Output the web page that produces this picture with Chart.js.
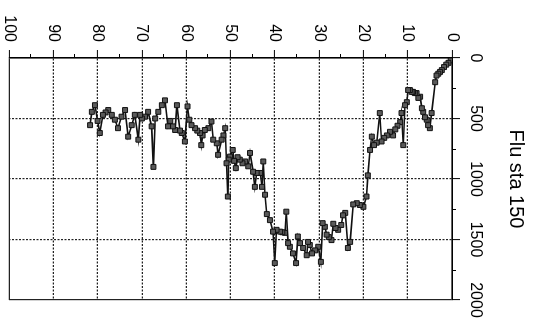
<!DOCTYPE html>
<html>
<head>
<meta charset="utf-8">
<script src="https://cdn.jsdelivr.net/npm/chart.js@4.4.1/dist/chart.umd.min.js"></script>
<style>
    html, body { margin: 0; padding: 0; overflow: hidden; background: #fff; width: 535px; height: 330px; }
    /* the scanned figure is turned a quarter turn clockwise */
    #wrap { position: absolute; left: 0; top: 0; width: 330px; height: 535px;
            transform-origin: 0 0; transform: translate(535px, 0) rotate(90deg); }
</style>
</head>
<body>
<div id="wrap"><canvas id="profileChart" width="330" height="535"></canvas></div>
<script>
// depth (m) and fluorescence readings, station 150
var depth = [0.3, 0.8, 1.3, 1.8, 2.3, 2.7, 3.1, 3.5, 3.8, 4.6,
    5.0, 5.4, 5.7, 6.1, 6.5, 6.8, 7.2, 7.6, 8.0, 8.4,
    8.8, 9.1, 9.5, 9.9, 10.2, 10.6, 11.0, 11.4, 11.7, 12.3,
    12.8, 13.3, 14.0, 14.7, 15.3, 15.9, 16.3, 17.0, 17.6, 18.1,
    18.5, 19.0, 19.3, 20.0, 20.8, 21.5, 22.3, 23.0, 23.5, 24.1,
    24.6, 25.0, 25.7, 26.3, 26.8, 27.2, 27.8, 28.3, 28.7, 29.2,
    29.6, 30.2, 30.9, 31.6, 32.1, 32.5, 32.8, 33.6, 34.3, 34.8,
    35.2, 35.9, 36.6, 37.0, 37.4, 37.7, 38.3, 38.8, 39.6, 40.0,
    40.4, 41.1, 41.8, 42.2, 42.6, 42.9, 43.3, 44.1, 44.5, 44.9,
    45.6, 46.0, 46.7, 47.3, 47.9, 48.4, 48.8, 49.2, 49.5, 50.1,
    50.4, 50.6, 50.9, 51.2, 51.6, 52.0, 52.8, 53.1, 53.9, 54.3,
    55.0, 55.8, 56.3, 56.6, 56.9, 57.5, 58.0, 58.8, 59.3, 59.7,
    60.3, 61.0, 61.4, 62.1, 62.5, 63.0, 63.6, 64.1, 64.8, 65.5,
    66.3, 67.0, 67.4, 67.8, 68.6, 69.3, 70.0, 70.4, 70.8, 71.6,
    72.3, 73.1, 73.8, 74.6, 75.4, 76.1, 76.8, 77.6, 78.2, 78.8,
    79.5, 80.0, 80.6, 81.3, 81.7];
var flu = [20, 40, 55, 75, 100, 115, 130, 145, 200, 455,
    580, 555, 510, 490, 445, 415, 320, 330, 290, 290,
    280, 280, 265, 265, 365, 390, 720, 455, 530, 560,
    590, 640, 610, 640, 660, 690, 455, 700, 720, 650,
    760, 970, 1145, 1230, 1215, 1200, 1210, 1520, 1570, 1280,
    1300, 1380, 1420, 1405, 1370, 1505, 1480, 1460, 1395, 1365,
    1685, 1560, 1590, 1615, 1545, 1520, 1630, 1570, 1530, 1475,
    1695, 1615, 1560, 1530, 1270, 1445, 1440, 1435, 1420, 1695,
    1435, 1340, 1290, 1130, 855, 1065, 950, 950, 1065, 940,
    785, 895, 855, 870, 840, 820, 910, 850, 760, 815,
    840, 1145, 870, 580, 640, 675, 800, 705, 675, 525,
    580, 595, 640, 720, 620, 600, 580, 555, 510, 400,
    690, 620, 600, 390, 595, 565, 520, 565, 350, 390,
    445, 500, 900, 565, 445, 485, 500, 470, 675, 470,
    555, 650, 430, 485, 580, 510, 470, 430, 450, 470,
    620, 520, 390, 445, 555];
var fluTicks = [0, 500, 1000, 1500, 2000];
var depthTicks = [0, 10, 20, 30, 40, 50, 60, 70, 80, 90, 100];
var title = 'Flu sta 150';

var points = depth.map(function(d, i) { return {x: flu[i], y: d}; });

// short ticks half way between the labelled ones
var minorTicks = {
    id: 'minorTicks',
    afterDraw: function(chart) {
        var ctx = chart.ctx, xs = chart.scales.x, ys = chart.scales.y, a = chart.chartArea;
        ctx.save();
        ctx.strokeStyle = '#000';
        ctx.lineWidth = 1;
        ctx.beginPath();
        for (var i = 0; i < fluTicks.length - 1; i++) {
            var px = Math.round(xs.getPixelForValue((fluTicks[i] + fluTicks[i + 1]) / 2)) + 0.5;
            ctx.moveTo(px, a.top);
            ctx.lineTo(px, a.top - 4);
        }
        for (var j = 0; j < depthTicks.length - 1; j++) {
            var py = Math.round(ys.getPixelForValue((depthTicks[j] + depthTicks[j + 1]) / 2)) + 0.5;
            ctx.moveTo(a.left, py);
            ctx.lineTo(a.left - 4, py);
        }
        ctx.stroke();
        ctx.restore();
    }
};

var font = { family: "'Liberation Sans', Arial, sans-serif", size: 16 };
var plain = function(v) { return String(v); };

var ctx = document.getElementById('profileChart').getContext('2d');
var profileChart = new Chart(ctx, {
    type: 'scatter',
    data: {
        datasets: [{
            label: title,
            data: points,
            showLine: true,
            borderColor: '#111',
            borderWidth: 1.6,
            pointStyle: 'rect',
            pointRadius: 3.5,
            pointBackgroundColor: '#5a5a5a',
            pointBorderColor: '#111',
            pointBorderWidth: 1
        }]
    },
    options: {
        responsive: false,
        animation: false,
        devicePixelRatio: 1,
        layout: { padding: { top: 0, left: 0, right: 30, bottom: 9 } },
        plugins: {
            legend: { display: false },
            tooltip: { enabled: false }
        },
        scales: {
            x: {
                type: 'linear',
                position: 'top',
                min: 0,
                max: 2000,
                afterBuildTicks: function(scale) {
                    scale.ticks = fluTicks.map(function(v) { return {value: v}; });
                },
                afterFit: function(scale) {
                    scale.height = 83;
                    scale.paddingLeft = 0;
                    scale.paddingRight = 0;
                },
                ticks: { color: '#000', font: font, padding: 6, maxRotation: 0, callback: plain },
                grid: {
                    color: '#222',
                    lineWidth: 1.2,
                    tickLength: 8,
                    tickColor: '#000',
                    tickWidth: 1
                },
                border: {
                    display: true,
                    color: '#000',
                    width: 1.5,
                    dash: function(c) { return (c.tick && (c.tick.value === 0 || c.tick.value === 2000)) ? [] : [2, 1.5]; }
                },
                title: {
                    display: true,
                    text: title,
                    color: '#000',
                    font: { family: "'Liberation Sans', Arial, sans-serif", size: 20 },
                    padding: { top: 7, bottom: 0 }
                }
            },
            y: {
                type: 'linear',
                position: 'left',
                reverse: true,
                min: 0,
                max: 100,
                afterBuildTicks: function(scale) {
                    scale.ticks = depthTicks.map(function(v) { return {value: v}; });
                },
                afterFit: function(scale) {
                    scale.width = 58;
                    scale.paddingTop = 0;
                    scale.paddingBottom = 0;
                },
                ticks: { color: '#000', font: font, padding: 8, callback: plain },
                grid: {
                    color: '#222',
                    lineWidth: 1.2,
                    tickLength: 8,
                    tickColor: '#000',
                    tickWidth: 1
                },
                border: {
                    display: true,
                    color: '#000',
                    width: 1.5,
                    dash: function(c) { return (c.tick && (c.tick.value === 0 || c.tick.value === 100)) ? [] : [2, 1.5]; }
                }
            }
        }
    },
    plugins: [minorTicks]
});
</script>
</body>
</html>
